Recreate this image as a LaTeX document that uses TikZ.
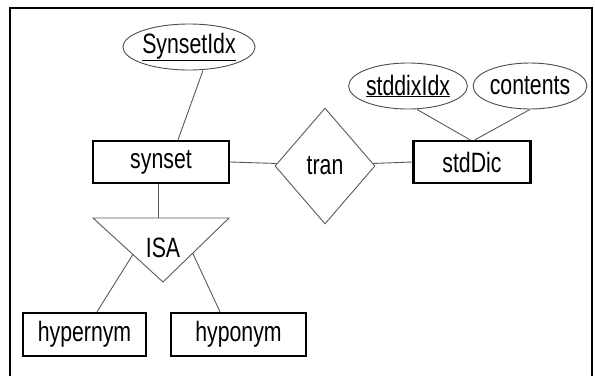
\documentclass[tikz,border=0pt]{standalone}
\usepackage{fontspec}
\setmainfont{Liberation Sans}[FakeStretch=0.76]
\usetikzlibrary{shapes.geometric,calc}
\begin{document}
\begin{tikzpicture}[x=1pt,y=-1pt,
  every node/.style={font=\fontsize{28}{32}\selectfont, text=black},
  ent/.style={draw=black, line width=2.4pt, minimum height=42pt, inner sep=0pt},
  attr/.style={ellipse, draw=black!70, line width=0.9pt, minimum width=102pt, minimum height=46pt, inner sep=0pt},
  conn/.style={draw=black!65, line width=0.9pt},
  rel/.style={draw=black!65, line width=0.9pt}]
\useasboundingbox (0,0) rectangle (595,376);
\draw[line width=2.6pt] (10,376) -- (10,8) -- (592,8) -- (592,376);

% entities
\node[ent, minimum width=136pt] (synset) at (161,162) {synset};
\node[ent, minimum width=117pt] (stdDic) at (472,162) {stdDic};
\node[ent, minimum width=123pt, minimum height=43pt] (hypernym) at (84.5,334.5) {hypernym};
\node[ent, minimum width=135pt, minimum height=43pt] (hyponym) at (238.5,334.5) {hyponym};

% attributes
\node[attr] (sidx) at (189,47) {\underline{SynsetIdx}};
\node[attr] (stdidx) at (408,86) {\underline{stddixIdx}};
\node[attr, minimum width=104pt] (contents) at (530,86) {contents};

% relationship
\node[diamond, rel, minimum width=100pt, minimum height=116pt, inner sep=1pt] (tran) at (325,166) {tran};

% ISA triangle
\coordinate (isaL) at (93,218);
\coordinate (isaR) at (229,218);
\coordinate (isaB) at (163,282);
\draw[rel] (isaL) -- (isaR) -- (isaB) -- cycle;
\node (isa) at (163,248) {ISA};

% connectors
\draw[conn] ([xshift=14pt]sidx.south) -- ([xshift=17pt]synset.north);
\draw[conn] ([xshift=9pt]stdidx.south) -- ([xshift=-2pt]stdDic.north);
\draw[conn] (contents.south) -- ([xshift=3pt]stdDic.north);
\draw[conn] (synset.east) -- (tran.177);
\draw[conn] (tran.3) -- (stdDic.west);
\draw[conn] ([xshift=-3pt]synset.south) -- ([xshift=-3pt]synset.south |- isaL);
\draw[conn] ($(isaL)!0.57!(isaB)$) -- ([xshift=12.5pt]hypernym.north);
\draw[conn] ($(isaR)!0.55!(isaB)$) -- ([xshift=-18.5pt]hyponym.north);
\end{tikzpicture}
\end{document}
